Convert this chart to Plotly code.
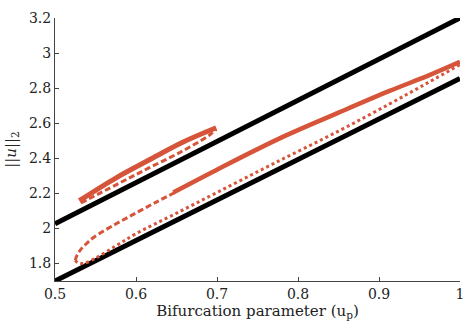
import plotly.graph_objects as go

RED = "rgb(214,84,58)"
FAM = "DejaVu Serif"

# Black reference lines
blk_x = [0.5, 1.0]
blk_upper_y = [2.026, 3.200]
blk_lower_y = [1.700, 2.855]

# Upper (isolated) branch
up_solid_x = [0.530, 0.576, 0.616, 0.657, 0.699]
up_solid_y = [2.158, 2.290, 2.390, 2.490, 2.574]
up_dash_x = [0.532, 0.576, 0.616, 0.657, 0.690, 0.699]
up_dash_y = [2.145, 2.250, 2.345, 2.440, 2.530, 2.565]

# Lower branch
lo_dash_x = [0.525, 0.527, 0.531, 0.537, 0.548, 0.575, 0.600, 0.625, 0.648]
lo_dash_y = [1.818, 1.845, 1.875, 1.905, 1.950, 2.025, 2.088, 2.150, 2.205]
lo_solid_x = [0.646, 0.700, 0.780, 0.850, 0.913, 0.960, 1.000]
lo_solid_y = [2.205, 2.335, 2.519, 2.660, 2.784, 2.870, 2.950]
lo_dot_x = [0.525, 0.528, 0.535, 0.550, 0.575, 0.600, 0.645, 0.700, 0.770, 0.850, 0.913, 0.960, 1.000]
lo_dot_y = [1.818, 1.805, 1.800, 1.830, 1.900, 1.970, 2.075, 2.205, 2.370, 2.555, 2.710, 2.830, 2.934]

fig = go.Figure()
fig.add_trace(go.Scatter(x=blk_x, y=blk_upper_y, mode="lines", line=dict(color="black", width=5)))
fig.add_trace(go.Scatter(x=blk_x, y=blk_lower_y, mode="lines", line=dict(color="black", width=5)))
fig.add_trace(go.Scatter(x=up_dash_x, y=up_dash_y, mode="lines", line=dict(color=RED, width=3, dash="6px,3px", shape="spline")))
fig.add_trace(go.Scatter(x=up_solid_x, y=up_solid_y, mode="lines", line=dict(color=RED, width=5, shape="spline")))
fig.add_trace(go.Scatter(x=lo_dot_x, y=lo_dot_y, mode="lines", line=dict(color=RED, width=3, dash="3px,3px", shape="spline")))
fig.add_trace(go.Scatter(x=lo_dash_x, y=lo_dash_y, mode="lines", line=dict(color=RED, width=3, dash="6px,3px", shape="spline")))
fig.add_trace(go.Scatter(x=lo_solid_x, y=lo_solid_y, mode="lines", line=dict(color=RED, width=4.5, shape="spline")))

fig.update_layout(
    width=474, height=330,
    margin=dict(l=47, r=12, t=10, b=49),
    paper_bgcolor="white", plot_bgcolor="white",
    showlegend=False, font=dict(family=FAM, size=14, color="#222"),
)
fig.update_xaxes(
    range=[0.5, 1.0], tickvals=[0.5, 0.6, 0.7, 0.8, 0.9, 1.0],
    ticktext=["0.5", "0.6", "0.7", "0.8", "0.9", "1"],
    tickfont=dict(family=FAM, size=14, color="#222"),
    ticks="inside", ticklen=4, tickcolor="#444", showgrid=False, zeroline=False,
    showline=True, linecolor="#444", linewidth=1,
    title=dict(text="Bifurcation parameter (u<sub>p</sub>)", font=dict(family=FAM, size=15, color="#222"), standoff=4),
)
fig.update_yaxes(
    range=[1.7, 3.2], tickvals=[1.8, 2.0, 2.2, 2.4, 2.6, 2.8, 3.0, 3.2],
    ticktext=["1.8", "2", "2.2", "2.4", "2.6", "2.8", "3", "3.2"],
    tickfont=dict(family=FAM, size=14, color="#222"),
    ticks="inside", ticklen=4, tickcolor="#444", showgrid=False, zeroline=False,
    showline=True, linecolor="#444", linewidth=1,
    title=dict(text="||<i>u</i>||<sub>2</sub>", font=dict(family=FAM, size=15, color="#222"), standoff=8),
)
fig.write_html("out.html")
